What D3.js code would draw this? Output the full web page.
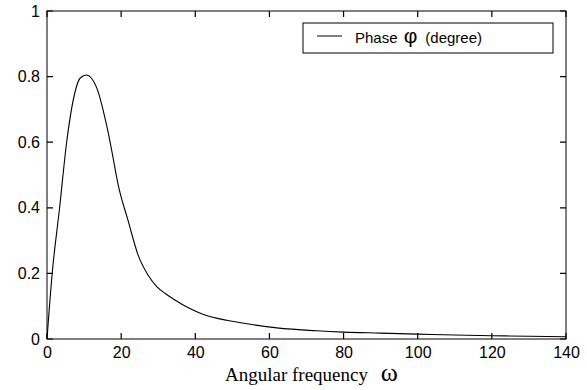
<!DOCTYPE html>
<html>
<head>
<meta charset="utf-8">
<script src="https://cdn.jsdelivr.net/npm/d3@7"></script>
<style>
  body { margin: 0; background: #fff; }
  svg { display: block; }
</style>
</head>
<body>
<svg id="chart" width="587" height="390"></svg>
<script>
// phase curve
const omega = [0, 1.4, 3.4, 5.3, 7.5, 8.9, 10.7, 12, 13.85, 15.2, 16.5, 17.4, 19.2, 21.9, 24.6, 27.2, 29.6, 32, 34.5, 38, 42.2, 48.5, 54.8, 62, 72.7, 80, 90, 100, 110, 120, 130, 140];
const phase = [0, 0.2, 0.4, 0.6, 0.75, 0.795, 0.805, 0.795, 0.752, 0.695, 0.63, 0.578, 0.47, 0.36, 0.255, 0.196, 0.16, 0.138, 0.119, 0.096, 0.075, 0.057, 0.045, 0.034, 0.025, 0.021, 0.018, 0.015, 0.012, 0.010, 0.0085, 0.007];
const xTicks = [0, 20, 40, 60, 80, 100, 120, 140];
const yTicks = [0, 0.2, 0.4, 0.6, 0.8, 1];

const plotL = 47, plotR = 566, plotT = 11, plotB = 339;
const tickLen = 6;
const svg = d3.select("#chart");

const x = d3.scaleLinear().domain([0, 140]).range([plotL, plotR]);
const y = d3.scaleLinear().domain([0, 1]).range([plotB, plotT]);

const tickFont = "'Liberation Sans', Arial, sans-serif";

// labels from the axis generators
svg.append("g")
  .attr("transform", "translate(0," + plotB + ")")
  .call(d3.axisBottom(x).tickValues(xTicks).tickSize(0).tickPadding(8).tickFormat(d3.format("d")));
svg.append("g")
  .attr("transform", "translate(" + plotL + ",0)")
  .call(d3.axisLeft(y).tickValues(yTicks).tickSize(0).tickPadding(7).tickFormat(d => d));

svg.selectAll(".domain").remove();
svg.selectAll(".tick text")
  .attr("font-family", tickFont)
  .attr("font-size", 16)
  .attr("fill", "#000");

// inward ticks on all four sides, one path
const p = d3.path();
xTicks.forEach(d => {
  p.moveTo(x(d), plotB); p.lineTo(x(d), plotB - tickLen);
  p.moveTo(x(d), plotT); p.lineTo(x(d), plotT + tickLen);
});
yTicks.forEach(d => {
  p.moveTo(plotL, y(d)); p.lineTo(plotL + tickLen, y(d));
  p.moveTo(plotR, y(d)); p.lineTo(plotR - tickLen, y(d));
});
svg.append("path")
  .attr("d", p.toString())
  .attr("fill", "none")
  .attr("stroke", "#000")
  .attr("stroke-width", 1.2);

// frame
svg.append("rect")
  .attr("x", plotL).attr("y", plotT)
  .attr("width", plotR - plotL).attr("height", plotB - plotT)
  .attr("fill", "none").attr("stroke", "#000");

// curve
const data = omega.map((w, i) => ({w: w, v: phase[i]}));
svg.append("path")
  .datum(data)
  .attr("fill", "none")
  .attr("stroke", "#000")
  .attr("stroke-width", 1.1)
  .attr("d", d3.line().x(d => x(d.w)).y(d => y(d.v)).curve(d3.curveMonotoneX));

// x label
const xl = svg.append("text")
  .attr("x", 225)
  .attr("y", 381)
  .attr("font-family", "'Liberation Serif', 'Times New Roman', serif")
  .attr("font-size", 19)
  .attr("fill", "#000");
xl.append("tspan").text("Angular frequency ");
xl.append("tspan").attr("dx", 8).attr("font-size", 26).text("ω");

// legend
const lg = svg.append("g");
lg.append("rect")
  .attr("x", 303).attr("y", 23).attr("width", 250).attr("height", 30)
  .attr("fill", "#fff").attr("stroke", "#000");
lg.append("line")
  .attr("x1", 317).attr("x2", 342).attr("y1", 36).attr("y2", 36)
  .attr("stroke", "#000");
const lt = lg.append("text")
  .attr("x", 355).attr("y", 43)
  .attr("font-family", tickFont)
  .attr("font-size", 15)
  .attr("fill", "#000");
lt.append("tspan").text("Phase ");
lt.append("tspan").attr("font-size", 21).attr("dx", 2).text("φ");
lt.append("tspan").attr("dx", 8).text("(degree)");
</script>
</body>
</html>
